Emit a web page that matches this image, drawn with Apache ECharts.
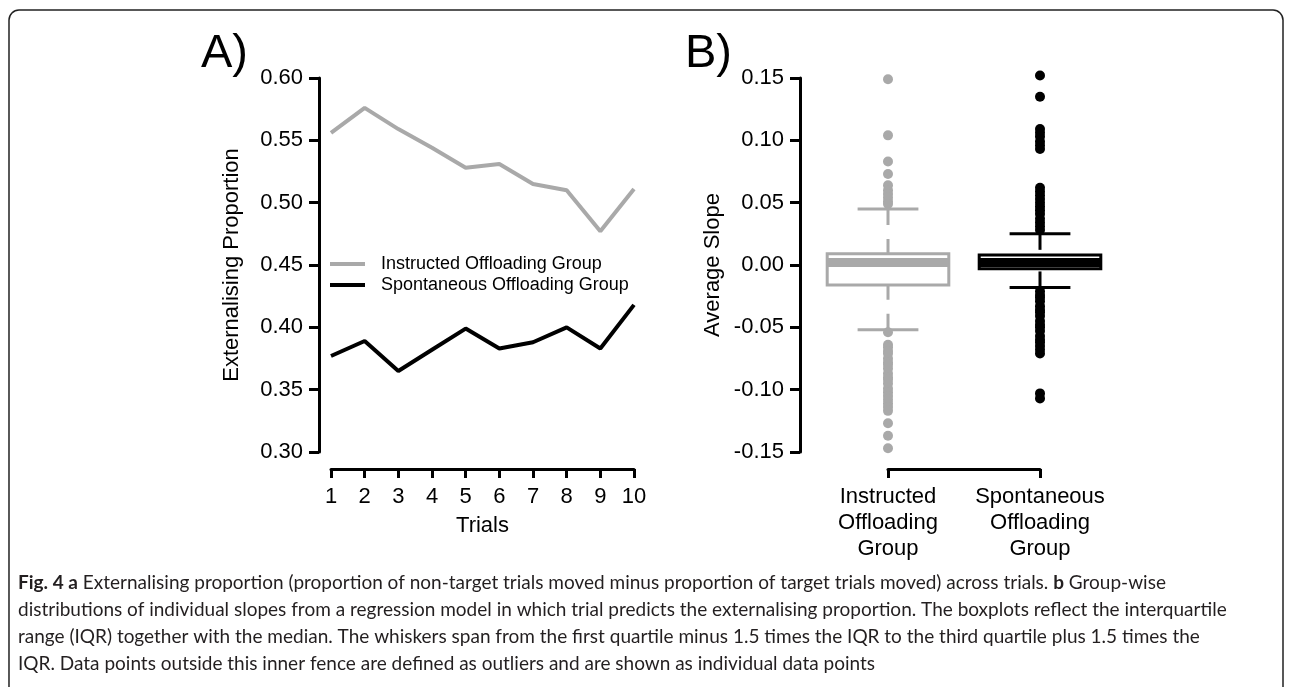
<!DOCTYPE html>
<html lang="en">
<head>
    <meta charset="UTF-8">
    <script type="text/javascript" src="https://cdn.jsdelivr.net/npm/echarts/dist/echarts.min.js"></script>
    <style>
        html, body { margin: 0; padding: 0; background: #fff; }
        #main { width: 1292px; height: 687px; }
    </style>
</head>
<body>
<div id="main"></div>
<script type="text/javascript">
    // panel A: externalising proportion per trial
    var trials = [1, 2, 3, 4, 5, 6, 7, 8, 9, 10];
    var instructedProp = [0.556, 0.576, 0.559, 0.544, 0.528, 0.531, 0.515, 0.510, 0.477, 0.511];
    var spontaneousProp = [0.377, 0.389, 0.365, 0.382, 0.399, 0.383, 0.388, 0.400, 0.383, 0.418];
    var seriesNames = ['Instructed Offloading Group', 'Spontaneous Offloading Group'];

    // panel B: average slopes
    var groups = ['Instructed\nOffloading\nGroup', 'Spontaneous\nOffloading\nGroup'];
    // [lower whisker, Q1, median, Q3, upper whisker]
    var instructedBox = [-0.052, -0.016, 0.002, 0.009, 0.045];
    var spontaneousBox = [-0.018, -0.003, 0.002, 0.008, 0.025];
    var instructedOutliers = [0.149, 0.104, 0.083, 0.073, 0.064, 0.060, 0.057, 0.054, 0.051, 0.049,
        -0.054, -0.064, -0.066, -0.069, -0.071, -0.075, -0.078, -0.080, -0.083, -0.087, -0.090,
        -0.092, -0.095, -0.099, -0.102, -0.105, -0.108, -0.111, -0.114, -0.117, -0.127, -0.137, -0.147];
    var spontaneousOutliers = [0.152, 0.135, 0.109, 0.106, 0.103, 0.099, 0.096, 0.093,
        0.062, 0.059, 0.056, 0.053, 0.050, 0.047, 0.044, 0.041, 0.037, 0.034, 0.031, 0.028,
        -0.021, -0.024, -0.026, -0.029, -0.033, -0.036, -0.038, -0.041, -0.045, -0.048, -0.050,
        -0.053, -0.057, -0.060, -0.062, -0.065, -0.068, -0.071, -0.103, -0.107];

    var captionLines = [
        '{b|Fig. 4 a} Externalising proportion (proportion of non-target trials moved minus proportion of target trials moved) across trials. {b|b} Group-wise',
        'distributions of individual slopes from a regression model in which trial predicts the externalising proportion. The boxplots reflect the interquartile',
        'range (IQR) together with the median. The whiskers span from the first quartile minus 1.5 times the IQR to the third quartile plus 1.5 times the',
        'IQR. Data points outside this inner fence are defined as outliers and are shown as individual data points'
    ];

    var grey = '#a9a9a9';
    var font = 'Liberation Sans';
    var capFont = 'Lato';

    function fmt(v) {
        if (Math.abs(v) < 1e-9) return '0.00';
        return v.toFixed(2);
    }

    function axisStyle(extra) {
        var a = {
            axisLine: { show: true, onZero: false, lineStyle: { color: '#000', width: 3 } },
            axisTick: { show: true, length: 10, lineStyle: { color: '#000', width: 3 } },
            axisLabel: { color: '#000', fontSize: 22, fontFamily: font },
            splitLine: { show: false },
            nameTextStyle: { color: '#000', fontSize: 22, fontFamily: font }
        };
        for (var k in extra) {
            if (typeof extra[k] === 'object' && a[k] && !Array.isArray(extra[k])) {
                for (var j in extra[k]) a[k][j] = extra[k][j];
            } else {
                a[k] = extra[k];
            }
        }
        return a;
    }

    function renderBox(params, api) {
        var idx = api.value(0);
        var color = idx === 0 ? grey : '#000';
        var w = api.size([1, 0])[0] * 0.8;
        var lo = api.coord([idx, api.value(1)]);
        var q1 = api.coord([idx, api.value(2)]);
        var med = api.coord([idx, api.value(3)]);
        var q3 = api.coord([idx, api.value(4)]);
        var hi = api.coord([idx, api.value(5)]);
        var cx = lo[0];
        var solid = { stroke: color, lineWidth: 3, fill: null };
        var dashed = { stroke: color, lineWidth: 3, fill: null, lineDash: [16, 14] };
        return {
            type: 'group',
            children: [
                { type: 'line', shape: { x1: cx, y1: hi[1], x2: cx, y2: q3[1] }, style: dashed },
                { type: 'line', shape: { x1: cx, y1: lo[1], x2: cx, y2: q1[1] }, style: dashed },
                { type: 'line', shape: { x1: cx - w / 4, y1: hi[1], x2: cx + w / 4, y2: hi[1] }, style: solid },
                { type: 'line', shape: { x1: cx - w / 4, y1: lo[1], x2: cx + w / 4, y2: lo[1] }, style: solid },
                { type: 'rect', shape: { x: cx - w / 2, y: q3[1], width: w, height: q1[1] - q3[1] },
                  style: { stroke: color, lineWidth: 3, fill: '#fff' } },
                { type: 'line', shape: { x1: cx - w / 2, y1: med[1], x2: cx + w / 2, y2: med[1] },
                  style: { stroke: color, lineWidth: 9 } }
            ]
        };
    }

    var graphics = [{
        type: 'rect',
        silent: true,
        shape: { x: 9, y: 10, width: 1274, height: 720, r: 10 },
        style: { fill: 'none', stroke: '#222', lineWidth: 1.5 }
    }];
    captionLines.forEach(function (line, i) {
        graphics.push({
            type: 'text',
            silent: true,
            x: 18,
            y: 583 + i * 27,
            style: {
                text: line,
                fill: '#231f20',
                font: '19px "' + capFont + '"',
                verticalAlign: 'middle',
                rich: { b: { fontWeight: 'bold', fontSize: 19, fontFamily: capFont, fill: '#231f20' } }
            }
        });
    });

    var myChart = echarts.init(document.getElementById('main'));
    var option = {
        backgroundColor: '#fff',
        animation: false,
        title: [
            { text: 'A)', left: 196, top: 26, textStyle: { fontSize: 47, fontWeight: 'normal', color: '#000', fontFamily: font } },
            { text: 'B)', left: 680, top: 26, textStyle: { fontSize: 47, fontWeight: 'normal', color: '#000', fontFamily: font } }
        ],
        legend: {
            data: seriesNames,
            orient: 'vertical',
            left: 325,
            top: 250,
            icon: 'rect',
            itemWidth: 35,
            itemHeight: 4,
            itemGap: 3,
            textStyle: { fontSize: 18, color: '#000', fontFamily: font, padding: [0, 0, 0, 11] }
        },
        grid: [
            { left: 331, top: 78, width: 303, height: 374 },
            { left: 888, top: 78, width: 152, height: 374 }
        ],
        xAxis: [
            axisStyle({
                type: 'value', gridIndex: 0, min: 1, max: 10, interval: 1, offset: 17,
                axisTick: { length: 9 },
                axisLabel: { margin: 17 },
                name: 'Trials', nameLocation: 'middle', nameGap: 46
            }),
            axisStyle({
                type: 'category', gridIndex: 1, data: groups, boundaryGap: false, offset: 17,
                axisTick: { length: 9, interval: 0 },
                axisLabel: { margin: 15, lineHeight: 26, interval: 0, showMinLabel: true, showMaxLabel: true, hideOverlap: false }
            })
        ],
        yAxis: [
            axisStyle({
                type: 'value', gridIndex: 0, min: 0.3, max: 0.6, interval: 0.05, offset: 12,
                axisLabel: { margin: 16, formatter: fmt },
                name: 'Externalising Proportion', nameLocation: 'middle', nameGap: 76
            }),
            axisStyle({
                type: 'value', gridIndex: 1, min: -0.15, max: 0.15, interval: 0.05, offset: 88,
                axisLabel: { margin: 16, formatter: fmt },
                name: 'Average Slope', nameLocation: 'middle', nameGap: 76
            })
        ],
        series: [
            {
                name: seriesNames[0], type: 'line', xAxisIndex: 0, yAxisIndex: 0,
                data: trials.map(function (t, i) { return [t, instructedProp[i]]; }),
                symbol: 'none', color: grey, lineStyle: { width: 4 }
            },
            {
                name: seriesNames[1], type: 'line', xAxisIndex: 0, yAxisIndex: 0,
                data: trials.map(function (t, i) { return [t, spontaneousProp[i]]; }),
                symbol: 'none', color: '#000', lineStyle: { width: 4 }
            },
            {
                type: 'custom', xAxisIndex: 1, yAxisIndex: 1, clip: false,
                renderItem: renderBox,
                encode: { x: 0, y: [1, 2, 3, 4, 5] },
                data: [[0].concat(instructedBox), [1].concat(spontaneousBox)]
            },
            {
                type: 'scatter', xAxisIndex: 1, yAxisIndex: 1, symbolSize: 10, clip: false,
                itemStyle: { color: grey, opacity: 1 },
                data: instructedOutliers.map(function (v) { return [0, v]; })
            },
            {
                type: 'scatter', xAxisIndex: 1, yAxisIndex: 1, symbolSize: 10, clip: false,
                itemStyle: { color: '#000', opacity: 1 },
                data: spontaneousOutliers.map(function (v) { return [1, v]; })
            }
        ],
        graphic: graphics
    };
    myChart.setOption(option);
</script>
</body>
</html>
